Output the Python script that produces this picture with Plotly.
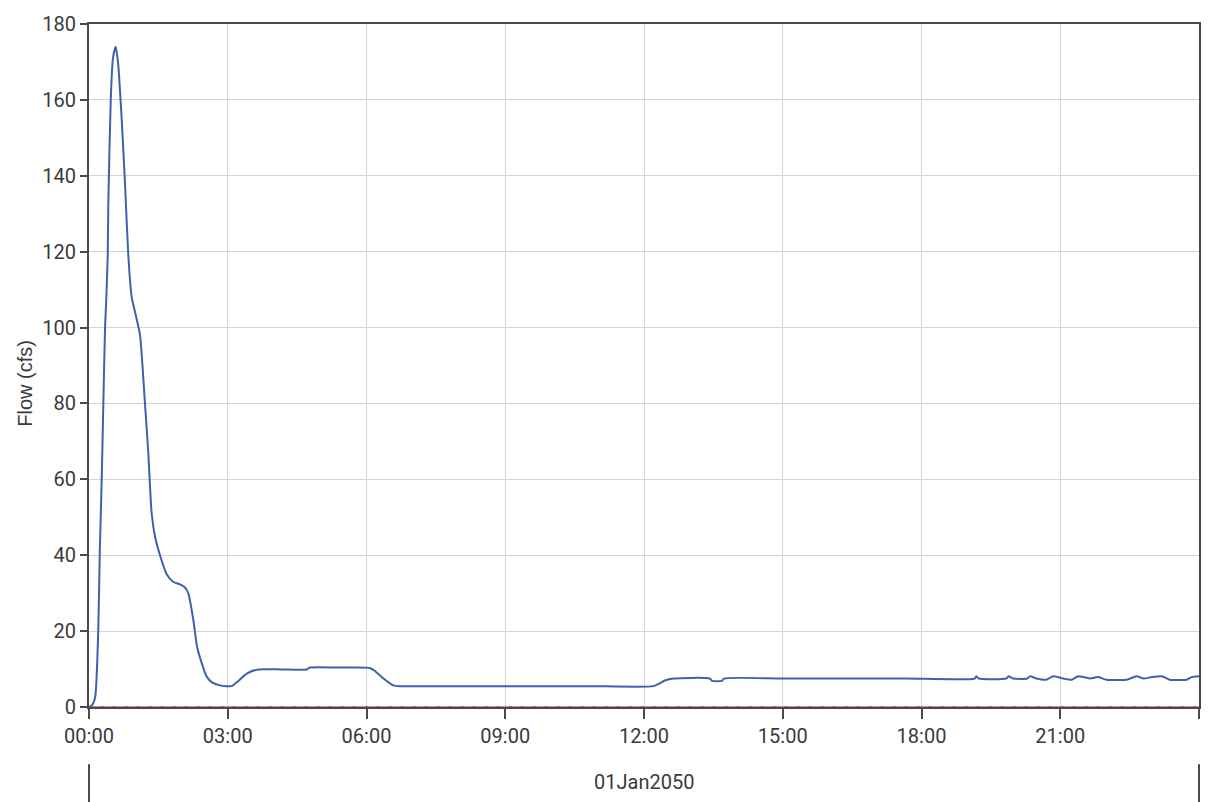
import pandas as pd
import plotly.graph_objects as go

# Simulated outflow hydrograph, 01Jan2050 (minutes after midnight, cfs)
minutes = [0, 4, 8, 12, 14, 16.5, 18.6, 20.8, 22.1, 24.3, 25, 28.2, 31.1,
           34.6, 37.6, 42.4, 46.7, 51, 55.4, 61, 66.2, 72.6, 76.9, 81.3,
           85.6, 92.1, 100.8, 109, 118.1, 124.5, 128.8, 135.3, 140.1, 144,
           152.7, 159.6, 169.9, 185.1, 193.3, 204.6, 219.6, 250, 282.4, 286.7,
           325, 364.5, 371, 377.5, 386.6, 394.8, 403.5, 480, 560, 650, 732,
           740.8, 747.2, 758, 805.6, 808.2, 821.2, 823.8, 900, 980, 1060,
           1149, 1151, 1154, 1190, 1193, 1199,
           1217, 1221, 1229, 1242, 1251, 1264, 1275, 1283, 1290, 1299, 1309,
           1320, 1346, 1359, 1368, 1379, 1392, 1402, 1424, 1431, 1440]
flow = [0, 0.5, 2.6, 20, 41, 60, 80, 100, 106, 119, 132, 160, 171,
        174, 170, 155, 138, 119, 108, 103, 98, 80, 67, 51,
        45, 40, 35, 33, 32.3, 31.5, 30, 23, 16, 13,
        8, 6.5, 5.7, 5.5, 6.8, 8.8, 9.9, 9.9, 9.9, 10.4,
        10.4, 10.3, 9.5, 8.3, 6.8, 5.7, 5.5, 5.5, 5.5, 5.5, 5.5,
        6.3, 7.0, 7.5, 7.5, 6.9, 6.9, 7.5, 7.5, 7.5, 7.5,
        7.5, 8.1, 7.5, 7.5, 8.1, 7.5,
        7.5, 8.1, 7.5, 7.2, 8.1, 7.5, 7.2, 8.1, 7.9, 7.5, 7.9,
        7.2, 7.2, 8.1, 7.5, 7.9, 8.1, 7.2, 7.2, 7.9, 8.1]

baseline_minutes = [0, 1440]
baseline_flow = [0, 0]

y_ticks = [0, 20, 40, 60, 80, 100, 120, 140, 160, 180]
x_tick_hours = [0, 3, 6, 9, 12, 15, 18, 21, 24]
x_tick_labels = ["00:00", "03:00", "06:00", "09:00", "12:00", "15:00",
                 "18:00", "21:00", "00:00"]
date_label = "01Jan2050"
y_title = "Flow (cfs)"

start = pd.Timestamp("2050-01-01 00:00")
t = [start + pd.Timedelta(minutes=m) for m in minutes]
tb = [start + pd.Timedelta(minutes=m) for m in baseline_minutes]
tick_times = [start + pd.Timedelta(hours=h) for h in x_tick_hours]

tick_font = dict(family="Roboto, Liberation Sans Narrow, sans-serif",
                 size=20, color="#3a3a3a")
axis_col = "#4a4a4a"
grid_col = "#d4d4d4"

fig = go.Figure()
fig.add_trace(go.Scatter(x=tb, y=baseline_flow, mode="lines",
                         line=dict(color="#d0604f", width=1.6),
                         hoverinfo="skip", showlegend=False))
fig.add_trace(go.Scatter(x=tb, y=baseline_flow, mode="lines",
                         line=dict(color="#555555", width=1.2, dash="3px,9px"),
                         hoverinfo="skip", showlegend=False))
fig.add_trace(go.Scatter(x=t, y=flow, mode="lines",
                         line=dict(color="#3d62ad", width=2, shape="spline",
                                   smoothing=0.6),
                         showlegend=False))

fig.update_xaxes(type="date", range=[tick_times[0], tick_times[-1]],
                 tickmode="array", tickvals=tick_times, ticktext=x_tick_labels,
                 tickfont=tick_font, ticks="outside", ticklen=10, tickwidth=2,
                 tickcolor=axis_col, showline=True, linecolor=axis_col,
                 linewidth=2, mirror=True, showgrid=True, gridcolor=grid_col,
                 gridwidth=1, zeroline=False)
fig.update_yaxes(range=[0, 180], tickmode="array", tickvals=y_ticks,
                 tickfont=tick_font, ticks="outside", ticklen=7, tickwidth=2,
                 tickcolor=axis_col, showline=True, linecolor=axis_col,
                 linewidth=2, mirror=True, showgrid=True, gridcolor=grid_col,
                 gridwidth=1, zeroline=False)

# y-axis title placed as a rotated annotation left of the tick labels
fig.add_annotation(text=y_title, xref="paper", yref="paper", x=-0.0577,
                   y=0.4747, xanchor="center", yanchor="middle",
                   textangle=-90, showarrow=False,
                   font=dict(family="Liberation Sans, Arial, sans-serif",
                             size=20, color="#3a3a3a"))
fig.add_annotation(text=date_label, xref="paper", yref="paper", x=0.5,
                   y=-0.11, yanchor="middle", showarrow=False, font=tick_font)
for xp in (0, 1):
    fig.add_shape(type="line", xref="paper", yref="paper", x0=xp, x1=xp,
                  y0=-0.084, y1=-0.14, line=dict(color=axis_col, width=2))

fig.update_layout(width=1223, height=802, autosize=False,
                  margin=dict(l=89, r=24, t=16, b=95),
                  paper_bgcolor="white", plot_bgcolor="white")

fig.write_html("out.html")
